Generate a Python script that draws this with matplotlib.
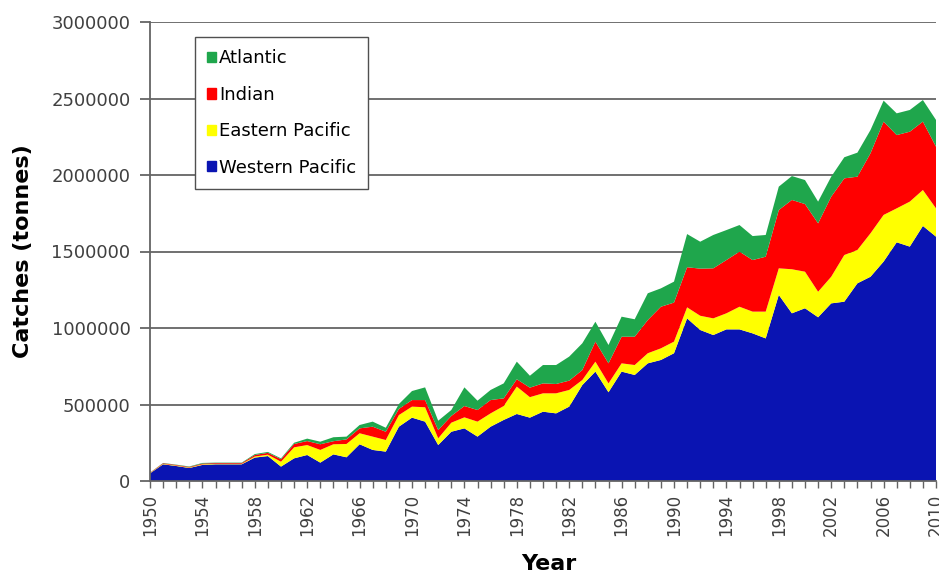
import matplotlib.pyplot as plt
from matplotlib.patches import Patch
import matplotlib.ticker as mticker

plt.rcParams['font.family'] = ['DejaVu Sans']

years = list(range(1950, 2011))

# catches per ocean, thousands of tonnes
western_pacific = [
    50, 109, 98, 85, 105, 109, 109, 109, 153, 163,
    94, 148, 170, 120, 174, 155, 240, 203, 192, 355,
    414, 388, 235, 322, 344, 290, 355, 399, 438, 414,
    453, 442, 486, 627, 715, 580, 715, 693, 769, 791,
    835, 1063, 987, 954, 991, 991, 965, 932, 1216, 1096,
    1129, 1070, 1161, 1172, 1292, 1335, 1434, 1560, 1532, 1667,
    1597,
]
eastern_pacific = [
    2, 3, 3, 3, 4, 3, 3, 3, 7, 9,
    32, 72, 65, 83, 66, 87, 72, 87, 76, 76,
    72, 94, 44, 59, 72, 98, 87, 91, 179, 134,
    120, 131, 109, 33, 65, 58, 54, 65, 66, 76,
    76, 72, 93, 109, 105, 148, 142, 175, 174, 288,
    239, 167, 174, 305, 218, 284, 305, 222, 294, 235,
    185,
]
indian = [
    2, 4, 4, 4, 5, 5, 5, 5, 10, 12,
    16, 22, 26, 37, 20, 30, 32, 65, 54, 40,
    43, 47, 54, 44, 74, 76, 87, 50, 48, 62,
    65, 61, 61, 65, 131, 131, 174, 185, 217, 272,
    255, 262, 308, 327, 348, 360, 337, 359, 381, 453,
    442, 447, 523, 501, 479, 523, 610, 479, 457, 447,
    403,
]
atlantic = [
    1, 2, 2, 3, 4, 3, 3, 3, 6, 6,
    6, 8, 16, 17, 26, 18, 22, 33, 26, 32,
    59, 83, 61, 39, 122, 61, 66, 98, 115, 78,
    120, 124, 157, 175, 130, 120, 131, 114, 175, 120,
    137, 217, 176, 218, 196, 174, 157, 142, 153, 156,
    157, 142, 131, 138, 157, 152, 137, 142, 142, 141,
    175,
]

series = [western_pacific, eastern_pacific, indian, atlantic]
labels = ["Western Pacific", "Eastern Pacific", "Indian", "Atlantic"]
colors = ["#0a14b2", "#ffff00", "#ff0000", "#1fa64c"]

fig = plt.figure(figsize=(9.39, 5.76), dpi=100)
ax = fig.add_axes([150 / 939, 1 - 481 / 576, 786 / 939, 459 / 576])

ax.stackplot(years, [[v * 1000 for v in s] for s in series],
             colors=colors, linewidth=0)

ax.set_xlim(1950, 2010)
ax.set_ylim(0, 3000000)
ax.set_yticks(range(0, 3000001, 500000))
ax.yaxis.set_major_formatter(mticker.FuncFormatter(lambda v, p: f"{int(v)}"))
ax.set_xticks(range(1950, 2011, 4))
ax.set_xticks(years, minor=True)
ax.set_xticklabels([str(y) for y in range(1950, 2011, 4)], rotation=90)

ax.set_axisbelow(True)
ax.yaxis.grid(True, color="#646464", linewidth=1.3)
for side in ["top", "right"]:
    ax.spines[side].set_visible(False)
ax.spines["left"].set_color("#646464")
ax.spines["left"].set_linewidth(1.3)
ax.spines["bottom"].set_color("#646464")
ax.spines["bottom"].set_linewidth(1.3)

ax.tick_params(axis="y", direction="out", length=7, width=1.3,
               color="#646464", labelsize=13, labelcolor="#404040", pad=7)
ax.tick_params(axis="x", which="both", direction="out", length=5, width=1,
               color="#646464", labelsize=12, labelcolor="#404040", pad=4)

ax.set_ylabel("Catches (tonnes)", fontsize=16, fontweight="bold")
ax.yaxis.set_label_coords(-0.149, 0.5)
ax.set_xlabel("Year", fontsize=16, fontweight="bold",
              family=["Liberation Sans Narrow", "DejaVu Sans"])
ax.xaxis.set_label_coords(0.507, -0.158)

handles = [Patch(color=c, label=l) for c, l in zip(colors, labels)][::-1]
leg = ax.legend(handles=handles, loc="upper left", bbox_to_anchor=(0.057, 0.967),
                borderaxespad=0, fancybox=False, framealpha=1,
                edgecolor="#505050", fontsize=13, handlelength=0.5,
                handleheight=0.5, handletextpad=0.15, labelspacing=1.02,
                borderpad=0.68)
leg.get_frame().set_linewidth(1.0)

fig.savefig("out.png", dpi=100)
